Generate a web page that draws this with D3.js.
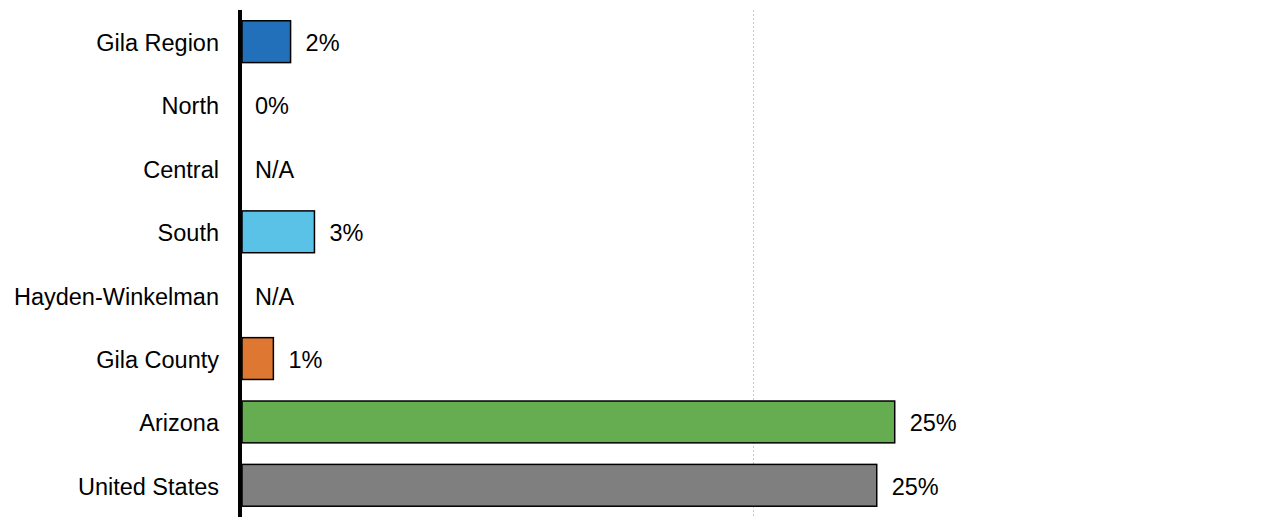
<!DOCTYPE html>
<html>
<head>
<meta charset="utf-8">
<script src="https://d3js.org/d3.v7.min.js"></script>
<style>
  body { margin: 0; background: #fff; }
  text { font-family: "Liberation Sans", Arial, sans-serif; }
</style>
</head>
<body>
<script>
// data
var regions = ["Gila Region", "North", "Central", "South", "Hayden-Winkelman", "Gila County", "Arizona", "United States"];
var values = [1.97, 0, null, 2.9, null, 1.3, 25.5, 24.8];
var valueLabels = ["2%", "0%", "N/A", "3%", "N/A", "1%", "25%", "25%"];
var barColors = ["#2270b9", "#2270b9", "#5bc2e7", "#5bc2e7", "#5bc2e7", "#dd7731", "#66ad52", "#7f7f7f"];
var gridTicks = [20];

var w = 1267, h = 517;
var left = 240;
var fs = "23.5px";

var dataset = [];
for (var i = 0; i < regions.length; i++) {
  dataset.push({name: regions[i], v: values[i], label: valueLabels[i], color: barColors[i]});
}

var svg = d3.select("body").append("svg")
  .attr("width", w)
  .attr("height", h);

var xScale = d3.scaleLinear()
  .domain([0, 40])
  .range([left, w]);

var yScale = d3.scaleBand()
  .domain(regions)
  .range([10, h])
  .paddingInner(0.34)
  .paddingOuter(0.17);

// gridline
svg.selectAll("line.grid")
  .data(gridTicks)
  .enter()
  .append("line")
  .attr("class", "grid")
  .attr("x1", function(d) { return xScale(d); })
  .attr("x2", function(d) { return xScale(d); })
  .attr("y1", 10)
  .attr("y2", h)
  .attr("stroke", "#c8c8c8")
  .attr("stroke-width", 1)
  .attr("stroke-dasharray", "2,2");

// bars
svg.selectAll("rect.bar")
  .data(dataset.filter(function(d) { return d.v; }))
  .enter()
  .append("rect")
  .attr("class", "bar")
  .attr("x", xScale(0) + 2)
  .attr("y", function(d) { return yScale(d.name); })
  .attr("width", function(d) { return xScale(d.v) - xScale(0) - 2; })
  .attr("height", yScale.bandwidth())
  .attr("fill", function(d) { return d.color; })
  .attr("stroke", "#000")
  .attr("stroke-width", 1.5);

// value labels
svg.selectAll("text.val")
  .data(dataset)
  .enter()
  .append("text")
  .attr("class", "val")
  .attr("x", function(d) { return xScale(d.v || 0) + 15; })
  .attr("y", function(d) { return yScale(d.name) + yScale.bandwidth() / 2; })
  .attr("dy", "0.4em")
  .attr("font-size", fs)
  .attr("fill", "#000")
  .text(function(d) { return d.label; });

// y axis
var yAxis = d3.axisLeft(yScale).tickSize(0).tickPadding(21);
var gy = svg.append("g")
  .attr("transform", "translate(" + left + ",0)")
  .call(yAxis);
gy.select(".domain").remove();
gy.selectAll("text")
  .attr("font-size", fs)
  .attr("dy", "0.4em")
  .attr("fill", "#000");

svg.append("line")
  .attr("x1", left)
  .attr("x2", left)
  .attr("y1", 10)
  .attr("y2", h)
  .attr("stroke", "#000")
  .attr("stroke-width", 4);
</script>
</body>
</html>
